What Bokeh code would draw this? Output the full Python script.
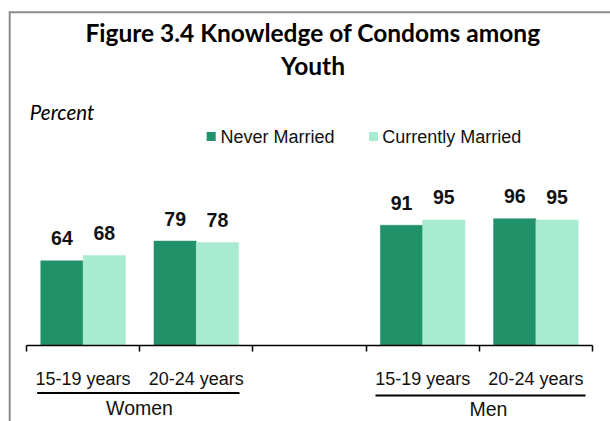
from bokeh.plotting import figure
from bokeh.models import FixedTicker, Range1d
from bokeh.core.properties import value
from bokeh.embed import file_html
from bokeh.resources import INLINE

# ---------------- data ----------------
groups = ["Women", "Women", "Men", "Men"]
age_groups = ["15-19 years", "20-24 years", "15-19 years", "20-24 years"]
never_married = [64, 79, 91, 96]
currently_married = [68, 78, 95, 95]
series_names = ["Never Married", "Currently Married"]
group_names = ["Women", "Men"]
slots = [0, 1, 3, 4]          # category slot on a 5-slot axis (slot 2 stays empty)
n_slots = 5
title_lines = ["Figure 3.4 Knowledge of Condoms among", "Youth"]
y_label = "Percent"

# ---------------- style / layout ----------------
NM_COLOR = "#21916A"
CM_COLOR = "#A9EBD1"
TXT = "#111111"
BORDER = "#8C8C8C"

W, H = 610, 421
X0, XS = 26.0, 113.2      # canvas px of slot boundary 0, px per slot
Y0, YS = 344.7, 1.318     # canvas px of value 0, px per percent


def dx(px):               # canvas px -> data x
    return (px - X0) / XS


def dy(py):               # canvas px -> data y
    return (Y0 - py) / YS


p = figure(width=W, height=H, output_backend="svg", toolbar_location=None,
           x_range=Range1d(-X0 / XS, (W - X0) / XS),
           y_range=Range1d(-(H - Y0) / YS, Y0 / YS),
           y_axis_location=None,
           min_border=0, min_border_left=0, min_border_right=0,
           min_border_top=0, min_border_bottom=0)
p.grid.visible = False
p.outline_line_color = None
p.background_fill_color = "white"
p.border_fill_color = "white"

# bars
BAR_W = 0.374
centers = [s + 0.5 for s in slots]
p.vbar(x=[c - BAR_W / 2 for c in centers], top=never_married, width=BAR_W,
       fill_color=NM_COLOR, line_color=NM_COLOR, line_width=0.5)
p.vbar(x=[c + BAR_W / 2 for c in centers], top=currently_married, width=BAR_W,
       fill_color=CM_COLOR, line_color=CM_COLOR, line_width=0.5)

# value labels (centre of digits ~22 px above the bar top)
GAP = 22.5 / YS
lab_x = [c - BAR_W / 2 for c in centers] + [c + BAR_W / 2 for c in centers]
lab_y = [v + GAP for v in never_married] + [v + GAP for v in currently_married]
lab_t = [str(v) for v in never_married] + [str(v) for v in currently_married]
p.text(x=lab_x, y=lab_y, text=lab_t, text_align="center", text_baseline="middle",
       text_font=value("Liberation Sans"), text_font_style="bold",
       text_font_size="19.5px", text_color=TXT)

# x axis at value 0
xa = p.xaxis[0]
xa.fixed_location = 0
xa.bounds = (0, n_slots)
xa.ticker = FixedTicker(ticks=centers, minor_ticks=list(range(n_slots + 1)))
xa.major_label_overrides = {c: a for c, a in zip(centers, age_groups)}
xa.major_tick_in = 0
xa.major_tick_out = 0
xa.minor_tick_in = 0
xa.minor_tick_out = 6
xa.minor_tick_line_color = "black"
xa.minor_tick_line_width = 1.5
xa.axis_line_color = "black"
xa.axis_line_width = 1.7
xa.major_label_standoff = 18
xa.major_label_text_font = "Liberation Sans"
xa.major_label_text_font_size = "18px"
xa.major_label_text_color = TXT

# group labels and underlines
p.segment(x0=[dx(36.7), dx(375)], x1=[dx(239), dx(585)],
          y0=[dy(392.5), dy(395)], y1=[dy(392.5), dy(395)],
          line_color="black", line_width=1.8)
p.text(x=[dx(139), dx(488)], y=[dy(407.8), dy(408.3)], text=group_names,
       text_align="center", text_baseline="middle",
       text_font=value("Liberation Sans"), text_font_size="19.5px", text_color=TXT)

# title
p.text(x=[dx(312.5)] * 2, y=[dy(32.4), dy(64.7)], text=title_lines,
       text_align="center", text_baseline="middle",
       text_font=value("Lato"), text_font_style="bold",
       text_font_size="24.5px", text_color="black")

# y label
p.text(x=[dx(29.3)], y=[dy(111.7)], text=[y_label], text_align="left",
       text_baseline="middle", text_font=value("Lato"),
       text_font_style="italic", text_font_size="20.5px", text_color="black")

# legend
p.rect(x=[dx(210.7), dx(373)], y=[dy(135.9)] * 2, width=9, height=9,
       width_units="screen", height_units="screen",
       fill_color=[NM_COLOR, CM_COLOR], line_color=None)
p.text(x=[dx(220), dx(381.7)], y=[dy(136.2)] * 2, text=series_names,
       text_align="left", text_baseline="middle",
       text_font=value("Liberation Sans"), text_font_size="18px", text_color=TXT)

# chart frame (left and top edges)
p.line(x=[dx(9.2), dx(9.2), p.x_range.end], y=[p.y_range.start, dy(11.8), dy(11.8)],
       line_color=BORDER, line_width=2, line_join="miter")

open("out.html", "w").write(file_html(p, INLINE))
